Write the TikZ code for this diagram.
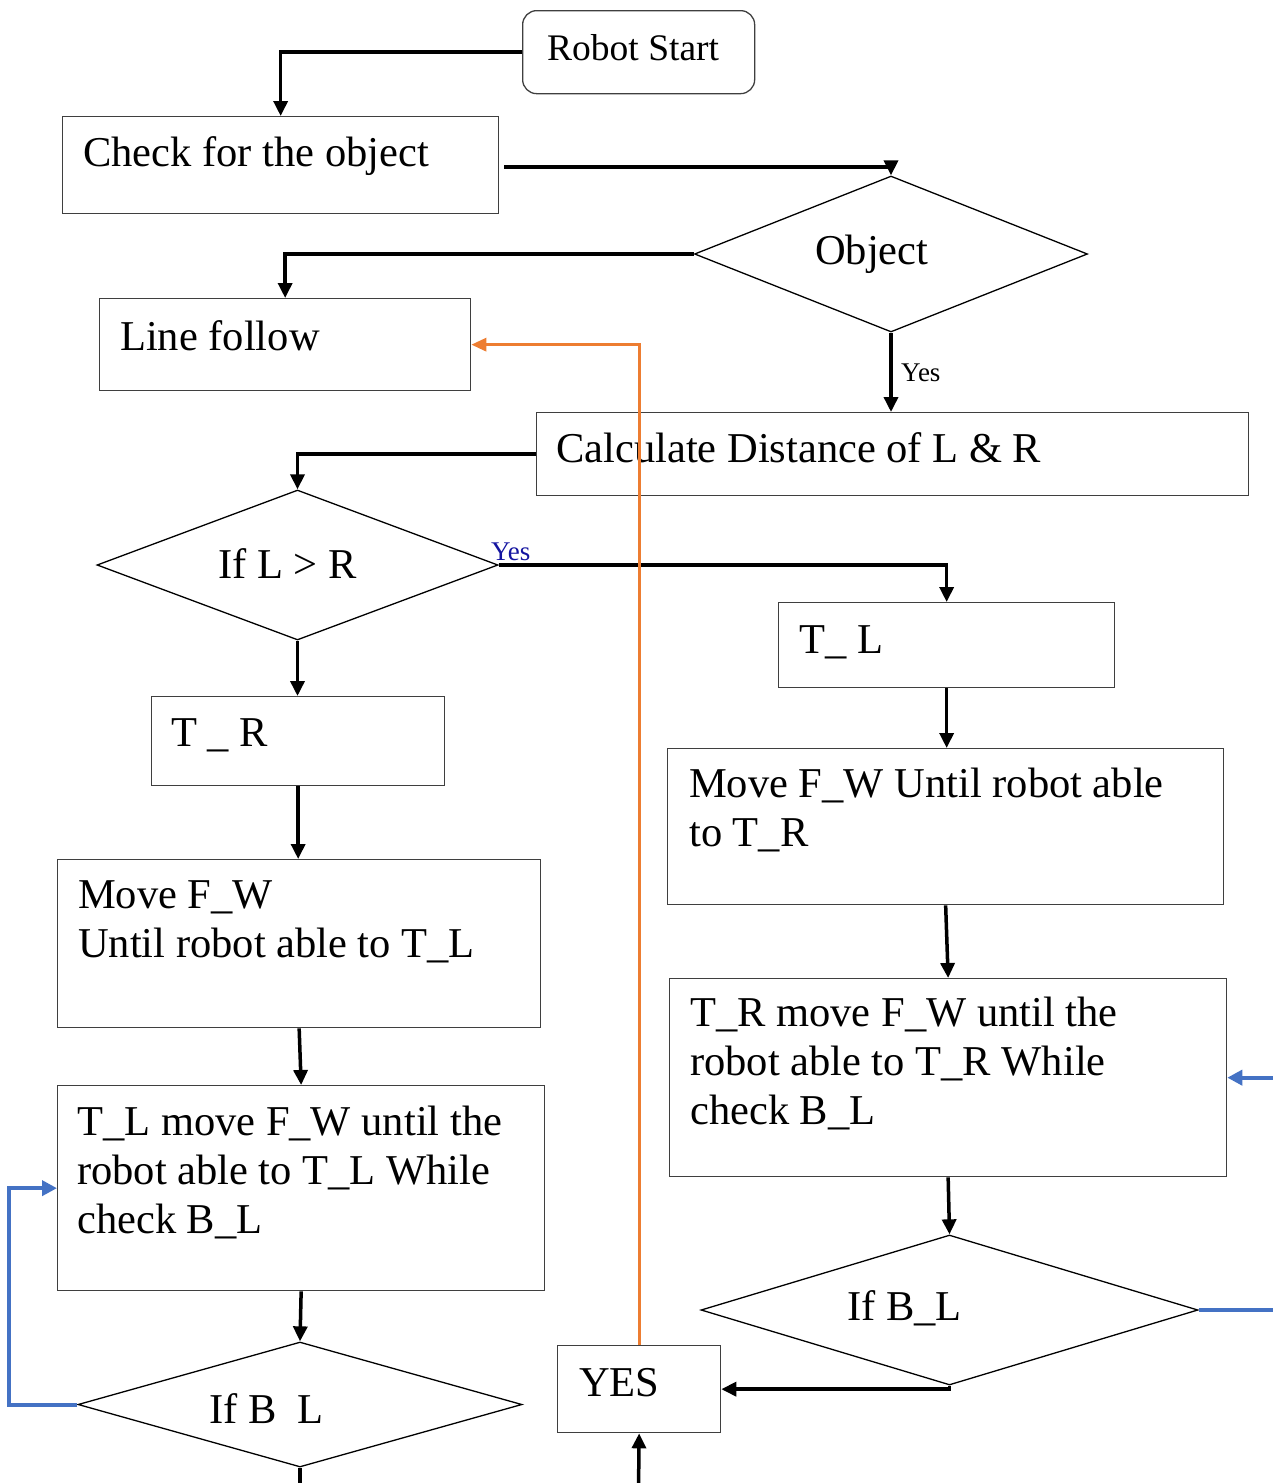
\documentclass[tikz,border=0pt]{standalone}
\usepackage{fontspec}
\setmainfont{Liberation Serif}
\usetikzlibrary{shapes.geometric,arrows.meta}
\definecolor{boxgray}{HTML}{3F3F3F}
\definecolor{loopblue}{HTML}{4472C4}
\definecolor{loopor}{HTML}{ED7D31}
\definecolor{yesblue}{RGB}{20,20,160}
\tikzset{
  box/.style={draw=boxgray, line width=1.3pt, inner sep=0pt, anchor=north west},
  dia/.style={draw=black, line width=1.3pt, shape=diamond, inner sep=0pt},
  txt/.style={anchor=base west, inner sep=0pt, font=\fontsize{42.5}{49}\selectfont},
  small/.style={anchor=base west, inner sep=0pt, font=\fontsize{27}{30}\selectfont},
  flow/.style={line width=3.5pt, -{Triangle[length=15pt,width=14pt]}},
  orangeflow/.style={draw=loopor, line width=3pt, -{Triangle[length=15pt,width=13pt]}},
  blueflow/.style={draw=loopblue, line width=4pt, -{Triangle[length=15pt,width=15pt]}},
}
\newcommand{\ml}[1]{\parbox[t]{560pt}{\raggedright #1}}
\begin{document}
\begin{tikzpicture}[x=1pt,y=-1pt]
\useasboundingbox (0,0) rectangle (1272,1483);
% boxes
\node[box, rounded corners=14pt, minimum width=232pt, minimum height=83pt] (start) at (522,10) {};
\node[box, minimum width=436pt, minimum height=97pt] (chk) at (62,116) {};
\node[box, minimum width=371pt, minimum height=92pt] (lf) at (99,298) {};
\node[box, minimum width=712pt, minimum height=83pt] (calc) at (536,412) {};
\node[box, minimum width=336pt, minimum height=85pt] (tl) at (778,602) {};
\node[box, minimum width=293pt, minimum height=89pt] (tr) at (151,696) {};
\node[box, minimum width=556pt, minimum height=156pt] (mvR) at (667,748) {};
\node[box, minimum width=483pt, minimum height=168pt] (mvL) at (57,859) {};
\node[box, minimum width=487pt, minimum height=205pt] (tlm) at (57,1085) {};
\node[box, minimum width=557pt, minimum height=198pt] (trm) at (669,978) {};
\node[box, minimum width=163pt, minimum height=87pt] (yes) at (557,1345) {};
% diamonds
\node[dia, minimum width=393pt, minimum height=156pt] (obj) at (891,254) {};
\node[dia, minimum width=401pt, minimum height=150pt] (iflr) at (297.5,565) {};
\node[dia, minimum width=497pt, minimum height=150pt] (ifblR) at (949.5,1310) {};
\node[dia, minimum width=444pt, minimum height=125pt] (ifblL) at (300,1404.5) {};
% texts
\node[anchor=base west, inner sep=0pt, font=\fontsize{37.5}{44}\selectfont] (startT) at (547,60) {Robot Start};
\node[txt] (chkT) at (83,166) {Check for the object};
\node[txt] (objT) at (815,264) {Object};
\node[txt] (lfT) at (120,350) {Line follow};
\node[txt] (calcT) at (556,462) {Calculate Distance of L \& R};
\node[txt] (iflrT) at (218,578) {If L \textgreater{} R};
\node[txt] (tlT) at (799,653) {T\_ L};
\node[txt] (trT) at (171,746) {T \_ R};
\node[txt] (mvRT) at (689,797) {\ml{Move F\_W Until robot able\\to T\_R}};
\node[txt] (mvLT) at (78,908) {\ml{Move F\_W\\Until robot able to T\_L}};
\node[txt] (tlmT) at (77,1135) {\ml{T\_L move F\_W until the\\robot able to T\_L While\\check B\_L}};
\node[txt] (trmT) at (690,1026) {\ml{T\_R move F\_W until the\\robot able to T\_R While\\check B\_L}};
\node[txt] (ifblRT) at (847,1320) {If B\_L};
\node[txt] (ifblLT) at (209,1423) {If B\phantom{\_}L};
\node[txt] (yesT) at (579,1396) {YES};
\node[small] (yes1) at (901,381) {Yes};
\node[small, text=yesblue] (yes2) at (491,560) {Yes};
% free ends
\coordinate (bl) at (9,1404.5);
\coordinate (br) at (1274.5,1310);
\coordinate (bot1) at (300,1490);
\coordinate (bot2) at (638.5,1490);
% black connectors
\draw[flow] (start.west) -| (chk.north);
\draw[flow] ([xshift=5pt,yshift=-2pt]chk.east) -| (obj.north);
\draw[flow] (obj.west) -| (lf.north);
\draw[flow] (obj.south) -- (obj.south |- calc.north);
\draw[flow] (calc.west) -| (iflr.north);
\draw[flow] (iflr.east) -| (tl.north);
\draw[flow] (iflr.south) -- (iflr.south |- tr.north);
\draw[flow] (tl.south) -- (tl.south |- mvR.north);
\draw[flow] (tr.south) -- (tr.south |- mvL.north);
\draw[flow] (mvL.south) -- (tlm.north);
\draw[flow] (mvR.south) -- (trm.north);
\draw[flow] (tlm.south) -- (ifblL.north);
\draw[flow] (trm.south) -- (ifblR.north);
\draw[flow] (ifblR.south) |- (yes.east);
\draw[line width=3.5pt] (ifblL.south) -- (bot1);
\draw[flow] (bot2) -- (yes.south);
% loops
\draw[blueflow] (ifblL.west) -- (bl) |- (tlm.west);
\draw[blueflow] (ifblR.east) -- (br) |- (trm.east);
\draw[orangeflow] (yes.north) |- (lf.east);
\end{tikzpicture}
\end{document}
